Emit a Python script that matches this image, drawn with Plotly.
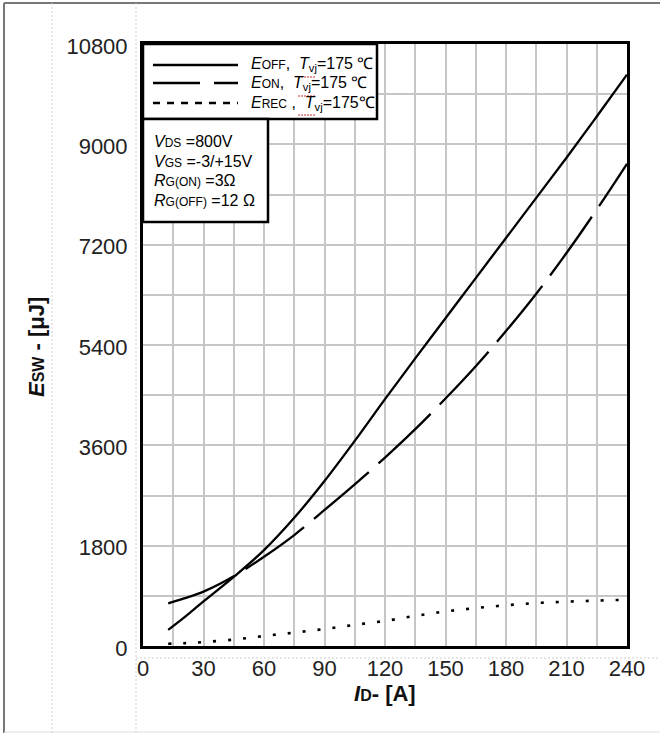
import plotly.graph_objects as go

# Switching energy vs. drain current, Tvj = 175 °C
current_a = [12.5, 20, 30, 45, 60, 75, 90, 105, 120, 135, 150, 165, 180, 195, 210, 225, 240]
e_off_uj = [290, 500, 800, 1240, 1720, 2300, 2960, 3680, 4430, 5160, 5880, 6600, 7320, 8040, 8760, 9500, 10250]
e_on_uj = [765, 850, 975, 1250, 1600, 1990, 2440, 2900, 3380, 3890, 4440, 5020, 5650, 6320, 7050, 7830, 8650]
e_rec_uj = [40, 50, 70, 115, 180, 240, 305, 380, 450, 540, 620, 680, 730, 770, 795, 815, 830]

x_ticks = [0, 30, 60, 90, 120, 150, 180, 210, 240]
y_ticks = [0, 1800, 3600, 5400, 7200, 9000, 10800]

FONT = "Liberation Sans, Arial, sans-serif"
W, H = 660, 733
ML, MR, MT, MB = 143, 33, 44, 87
PW, PH = W - ML - MR, H - MT - MB


def px(xp):
    return (xp - ML) / PW


def py(yp):
    return (H - MB - yp) / PH


fig = go.Figure()
fig.add_trace(go.Scatter(x=current_a, y=e_off_uj, mode="lines", line_shape="spline",
                         line=dict(color="black", width=2.3), name="EOFF"))
fig.add_trace(go.Scatter(x=current_a, y=e_on_uj, mode="lines", line_shape="spline",
                         line=dict(color="black", width=2.3, dash="72px,13px"), name="EON"))
fig.add_trace(go.Scatter(x=current_a, y=e_rec_uj, mode="lines", line_shape="spline",
                         line=dict(color="black", width=2.6, dash="3px,12px"), name="EREC"))

grid = "#c6c6c6"
fig.update_xaxes(range=[0, 240], tickvals=x_ticks, ticktext=[str(v) for v in x_ticks],
                 showgrid=True, gridcolor=grid, gridwidth=2,
                 minor=dict(dtick=15, tick0=0, showgrid=True, gridcolor=grid, gridwidth=2),
                 showline=True, mirror=True, linecolor="black", linewidth=3,
                 ticks="", ticklabelstandoff=1, zeroline=False,
                 tickfont=dict(family=FONT, size=22, color="#222"))
fig.update_yaxes(range=[0, 10800], tickvals=y_ticks, ticktext=[str(v) for v in y_ticks],
                 showgrid=True, gridcolor=grid, gridwidth=2,
                 minor=dict(dtick=900, tick0=0, showgrid=True, gridcolor=grid, gridwidth=2),
                 showline=True, mirror=True, linecolor="black", linewidth=3,
                 ticks="", ticklabelstandoff=8, ticklabelshift=2, zeroline=False,
                 tickfont=dict(family=FONT, size=22, color="#222"))

shapes = []
# page frame and dotted guides
shapes.append(dict(type="line", xref="paper", yref="paper", x0=px(4), x1=px(4), y0=py(3), y1=py(733),
                   line=dict(color="#777", width=2)))
shapes.append(dict(type="line", xref="paper", yref="paper", x0=px(4), x1=px(660), y0=py(3), y1=py(3),
                   line=dict(color="#777", width=2)))
shapes.append(dict(type="line", xref="paper", yref="paper", x0=px(4), x1=px(660), y0=py(732), y1=py(732),
                   line=dict(color="#ddd", width=1)))
for xv in (52, 136):
    shapes.append(dict(type="line", xref="paper", yref="paper", x0=px(xv), x1=px(xv), y0=py(3), y1=py(733),
                       line=dict(color="#cfcfcf", width=1, dash="2px,2px")))
shapes.append(dict(type="line", xref="paper", yref="paper", x0=px(136), x1=px(660), y0=py(658), y1=py(658),
                   line=dict(color="#cfcfcf", width=1, dash="2px,2px")))

# legend and test-condition boxes
shapes.append(dict(type="rect", xref="paper", yref="paper", x0=0, x1=px(377), y0=py(119), y1=1,
                   fillcolor="white", line=dict(color="black", width=2.5), layer="above"))
shapes.append(dict(type="rect", xref="paper", yref="paper", x0=0, x1=px(268), y0=py(222), y1=py(119),
                   fillcolor="white", line=dict(color="black", width=2.5), layer="above"))
legend_rows = [(65, "solid"), (83, "47px,14px"), (103, "7px,7px")]
for yp, dash in legend_rows:
    shapes.append(dict(type="line", xref="paper", yref="paper", x0=px(153), x1=px(238), y0=py(yp), y1=py(yp),
                       line=dict(color="black", width=2.3, dash=dash), layer="above"))
# proofing squiggles under the Tvj labels
for yp in (77, 96, 115):
    shapes.append(dict(type="line", xref="paper", yref="paper", x0=px(298), x1=px(316), y0=py(yp), y1=py(yp),
                       line=dict(color="#d03030", width=1, dash="2px,1px"), layer="above"))

SM = '<span style="font-size:12px">{}</span>'
legend_text = [
    (65, "<i>E</i>" + SM.format("OFF") + ",  <i>T</i><sub>vj</sub>=175 ℃"),
    (83, "<i>E</i>" + SM.format("ON") + ",  <i>T</i><sub>vj</sub>=175 ℃"),
    (103, "<i>E</i>" + SM.format("REC") + " ,  <i>T</i><sub>vj</sub>=175℃"),
]
cond_text = [
    (142, "<i>V</i>" + SM.format("DS") + " =800V"),
    (161, "<i>V</i>" + SM.format("GS") + " =-3/+15V"),
    (180, "<i>R</i>" + SM.format("G(ON)") + " =3Ω"),
    (200, "<i>R</i>" + SM.format("G(OFF)") + " =12 Ω"),
]
annotations = []
for yp, t in legend_text:
    annotations.append(dict(xref="paper", yref="paper", x=px(249), y=py(yp), text=t, showarrow=False,
                            xanchor="left", yanchor="middle", font=dict(family=FONT, size=16, color="black")))
for yp, t in cond_text:
    annotations.append(dict(xref="paper", yref="paper", x=px(152), y=py(yp), text=t, showarrow=False,
                            xanchor="left", yanchor="middle", font=dict(family=FONT, size=16, color="black")))

# axis titles
annotations.append(dict(xref="paper", yref="paper", x=0.5, y=py(693),
                        text="<b><i>I</i></b><b><span style=\"font-size:16px\">D</span>- [A]</b>",
                        showarrow=False, xanchor="center", yanchor="middle",
                        font=dict(family=FONT, size=22, color="#111")))
annotations.append(dict(xref="paper", yref="paper", x=px(36), y=py(347),
                        text="<b><i>E</i></b><b><span style=\"font-size:16px\">SW</span> - [μJ]</b>",
                        showarrow=False, textangle=-90, xanchor="center", yanchor="middle",
                        font=dict(family=FONT, size=22, color="#111")))

fig.update_layout(width=W, height=H, margin=dict(l=ML, r=MR, t=MT, b=MB),
                  paper_bgcolor="white", plot_bgcolor="white", showlegend=False,
                  shapes=shapes, annotations=annotations)

fig.write_html("out.html")
